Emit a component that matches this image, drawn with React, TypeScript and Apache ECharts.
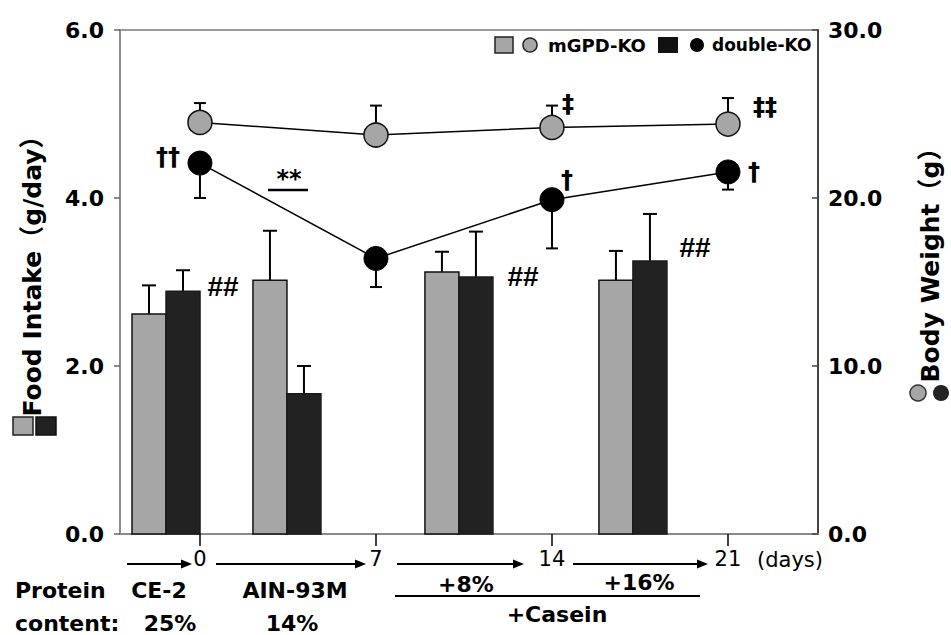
import React, { useEffect, useRef } from 'react';
import * as echarts from 'echarts';

const FONT = '"DejaVu Sans", "Noto Sans CJK JP", sans-serif';

// Body weight (right axis, g) at days
const days = [0, 7, 14, 21];
const bwGrey = [24.5, 23.75, 24.2, 24.4];
const bwGreySE = [1.15, 1.75, 1.3, 1.55];
const bwBlack = [22.08, 16.4, 19.9, 21.55];
const bwBlackSE = [2.08, 1.7, 2.9, 1.05];

// Food intake (left axis, g/day), bar groups placed between days
const barDays = [-1.35, 3.46, 10.3, 17.22];
const fiGrey = [2.62, 3.02, 3.12, 3.02];
const fiGreySE = [0.34, 0.59, 0.24, 0.35];
const fiBlack = [2.89, 1.67, 3.06, 3.25];
const fiBlackSE = [0.25, 0.33, 0.54, 0.56];

const dayTicks = [0, 7, 14, 21];
const legendNames = ['mGPD-KO', 'double-KO'];

function barRender(side: number, fill: string, stroke: string) {
  return (params: any, api: any) => {
    const x = api.value(0), v = api.value(1), se = api.value(2);
    const b = api.coord([x, 0]);
    const t = api.coord([x, v]);
    const e = api.coord([x, v + se]);
    const w = 34;
    const left = side < 0 ? b[0] - w : b[0];
    const cx = left + w / 2;
    return {
      type: 'group',
      children: [
        { type: 'line', shape: { x1: cx, y1: t[1], x2: cx, y2: e[1] }, style: { stroke: '#000', lineWidth: 2 } },
        { type: 'line', shape: { x1: cx - 7, y1: e[1], x2: cx + 7, y2: e[1] }, style: { stroke: '#000', lineWidth: 2 } },
        { type: 'rect', shape: { x: left, y: t[1], width: w, height: b[1] - t[1] }, style: { fill, stroke, lineWidth: 1.5 } },
      ],
    };
  };
}

function errRender(dir: number) {
  return (params: any, api: any) => {
    const x = api.value(0), v = api.value(1), se = api.value(2);
    const c = api.coord([x, v]);
    const e = api.coord([x, v + dir * se]);
    return {
      type: 'group',
      children: [
        { type: 'line', shape: { x1: c[0], y1: c[1], x2: c[0], y2: e[1] }, style: { stroke: '#000', lineWidth: 2 } },
        { type: 'line', shape: { x1: c[0] - 6, y1: e[1], x2: c[0] + 6, y2: e[1] }, style: { stroke: '#000', lineWidth: 2 } },
      ],
    };
  };
}

function txt(text: string, x: number, y: number, o: any = {}) {
  const align = o.align || 'center';
  return {
    type: 'text',
    x, y,
    rotation: o.rotation || 0,
    z: 20,
    style: {
      text,
      fill: '#000',
      font: `${o.weight || 'bold'} ${o.size || 22}px ${o.family || FONT}`,
      fontSize: o.size || 22,
      fontWeight: o.weight || 'bold',
      fontFamily: o.family || FONT,
      align, textAlign: align,
      verticalAlign: 'middle', textVerticalAlign: 'middle',
    },
  };
}

function arrow(x1: number, x2: number, y: number) {
  return [
    { type: 'line', z: 20, shape: { x1, y1: y, x2: x2 - 8, y2: y }, style: { stroke: '#000', lineWidth: 2 } },
    { type: 'polygon', z: 20, shape: { points: [[x2 - 11, y - 4.5], [x2, y], [x2 - 11, y + 4.5]] }, style: { fill: '#000' } },
  ];
}

export default function App() {
  const ref = useRef<HTMLDivElement>(null);
  useEffect(() => {
    const chart = echarts.init(ref.current!, null, { renderer: 'svg' });
    const GREY = '#a6a6a6';
    const DARK = '#222222';
    const option: any = {
      animation: false,
      backgroundColor: '#fff',
      grid: { left: 120, top: 30, width: 698, height: 504, show: true, borderColor: '#9a9a9a', borderWidth: 2, backgroundColor: 'transparent' },
      xAxis: {
        type: 'value', min: -3.18, max: 24.58,
        splitLine: { show: false },
        axisLine: { show: true, onZero: false, lineStyle: { color: '#8a8a8a', width: 2 } },
        axisTick: { show: true, customValues: dayTicks, length: 12, lineStyle: { color: '#000', width: 1.5 } },
        axisLabel: { show: true, customValues: dayTicks, margin: 14, color: '#000', fontSize: 21, fontFamily: FONT, formatter: (v: number) => String(v) },
      },
      yAxis: [
        {
          type: 'value', min: 0, max: 6, interval: 2, position: 'left',
          splitLine: { show: false },
          axisLine: { show: true, onZero: false, lineStyle: { color: '#8a8a8a', width: 2 } },
          axisTick: { show: true, length: 6, lineStyle: { color: '#666', width: 1.5 } },
          axisLabel: { margin: 16, color: '#000', fontSize: 22, fontWeight: 'bold', fontFamily: FONT, formatter: (v: number) => v.toFixed(1) },
        },
        {
          type: 'value', min: 0, max: 30, interval: 10, position: 'right',
          splitLine: { show: false },
          axisLine: { show: true, onZero: false, lineStyle: { color: '#444', width: 2 } },
          axisTick: { show: true, inside: true, length: 6, lineStyle: { color: '#444', width: 1.5 } },
          axisLabel: { margin: 10, color: '#000', fontSize: 22, fontWeight: 'bold', fontFamily: FONT, formatter: (v: number) => v.toFixed(1) },
        },
      ],
      series: [
        {
          type: 'custom', name: 'fi-grey', xAxisIndex: 0, yAxisIndex: 0, z: 2,
          renderItem: barRender(-1, GREY, '#111'),
          encode: { x: 0, y: 1 },
          data: barDays.map((d, i) => [d, fiGrey[i], fiGreySE[i]]),
        },
        {
          type: 'custom', name: 'fi-black', xAxisIndex: 0, yAxisIndex: 0, z: 2,
          renderItem: barRender(1, DARK, '#1a1a1a'),
          encode: { x: 0, y: 1 },
          data: barDays.map((d, i) => [d, fiBlack[i], fiBlackSE[i]]),
        },
        {
          type: 'custom', name: 'bw-grey-err', yAxisIndex: 1, z: 3,
          renderItem: errRender(1),
          encode: { x: 0, y: 1 },
          data: days.map((d, i) => [d, bwGrey[i], bwGreySE[i]]),
        },
        {
          type: 'custom', name: 'bw-black-err', yAxisIndex: 1, z: 3,
          renderItem: errRender(-1),
          encode: { x: 0, y: 1 },
          data: days.map((d, i) => [d, bwBlack[i], bwBlackSE[i]]),
        },
        {
          type: 'line', name: legendNames[0], yAxisIndex: 1, z: 5,
          data: days.map((d, i) => [d, bwGrey[i]]),
          symbol: 'circle', symbolSize: 24, showAllSymbol: true,
          itemStyle: { color: GREY, borderColor: '#111', borderWidth: 1.5 },
          lineStyle: { color: '#000', width: 1.5 },
        },
        {
          type: 'line', name: legendNames[1], yAxisIndex: 1, z: 5,
          data: days.map((d, i) => [d, bwBlack[i]]),
          symbol: 'circle', symbolSize: 24, showAllSymbol: true,
          itemStyle: { color: '#000', borderColor: '#000', borderWidth: 1 },
          lineStyle: { color: '#000', width: 1.5 },
        },
      ],
      graphic: [
        // legend
        { type: 'rect', z: 20, shape: { x: 495, y: 37, width: 18, height: 16 }, style: { fill: GREY, stroke: '#222', lineWidth: 1.5 } },
        { type: 'circle', z: 20, shape: { cx: 530, cy: 45, r: 7 }, style: { fill: GREY, stroke: '#222', lineWidth: 1.5 } },
        txt(legendNames[0], 548, 45, { align: 'left', size: 18 }),
        { type: 'rect', z: 20, shape: { x: 658, y: 37, width: 20, height: 16 }, style: { fill: '#111' } },
        { type: 'circle', z: 20, shape: { cx: 697, cy: 45, r: 7 }, style: { fill: '#000' } },
        txt(legendNames[1], 712, 45, { align: 'left', size: 17 }),
        // significance marks
        txt('††', 168, 157, { size: 24 }),
        txt('‡', 568, 104, { size: 24 }),
        txt('‡‡', 765, 107, { size: 24 }),
        txt('†', 567, 180, { size: 24 }),
        txt('†', 754, 172, { size: 24 }),
        txt('##', 223, 286, { size: 28, family: '"Liberation Sans", Arial, sans-serif' }),
        txt('##', 523, 276, { size: 28, family: '"Liberation Sans", Arial, sans-serif' }),
        txt('##', 695, 247, { size: 28, family: '"Liberation Sans", Arial, sans-serif' }),
        txt('**', 289, 179, { size: 24 }),
        { type: 'line', z: 20, shape: { x1: 268, y1: 190, x2: 308, y2: 190 }, style: { stroke: '#000', lineWidth: 2.5 } },
        // axis titles
        txt('Food Intake（g/day）', 32, 270, { size: 25, rotation: Math.PI / 2 }),
        { type: 'rect', z: 20, shape: { x: 13, y: 417, width: 20, height: 18 }, style: { fill: GREY, stroke: '#222', lineWidth: 1.5 } },
        { type: 'rect', z: 20, shape: { x: 36, y: 417, width: 20, height: 18 }, style: { fill: DARK, stroke: '#111', lineWidth: 1.5 } },
        txt('Body Weight（g）', 930, 259, { size: 25, rotation: Math.PI / 2 }),
        { type: 'circle', z: 20, shape: { cx: 918, cy: 393, r: 8 }, style: { fill: GREY, stroke: '#333', lineWidth: 1.5 } },
        { type: 'circle', z: 20, shape: { cx: 941, cy: 393, r: 8 }, style: { fill: DARK } },
        // bottom timeline
        ...arrow(127, 192, 564),
        ...arrow(216, 366, 564),
        ...arrow(397, 524, 564),
        ...arrow(573, 708, 564),
        txt('(days)', 757, 560, { align: 'left', size: 21, weight: 'normal' }),
        txt('Protein', 15, 590, { align: 'left' }),
        txt('content:', 15, 623, { align: 'left' }),
        txt('CE-2', 159, 590),
        txt('25%', 170, 623),
        txt('AIN-93M', 295, 590),
        txt('14%', 292, 623),
        txt('+8%', 466, 584),
        txt('+16%', 639, 582),
        { type: 'line', z: 20, shape: { x1: 395, y1: 596, x2: 700, y2: 596 }, style: { stroke: '#000', lineWidth: 2 } },
        txt('+Casein', 557, 614),
      ],
    };
    chart.setOption(option);
    return () => chart.dispose();
  }, []);
  return <div ref={ref} style={{ position: 'fixed', left: 0, top: 0, width: 951, height: 635, background: '#fff' }} />;
}
